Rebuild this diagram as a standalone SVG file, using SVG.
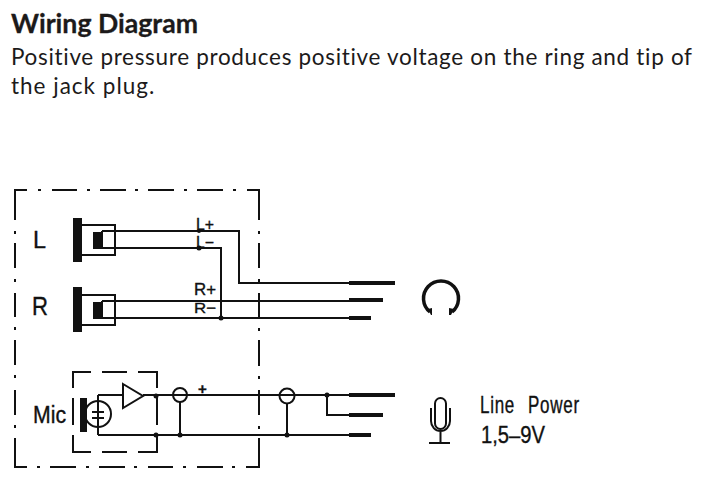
<svg xmlns="http://www.w3.org/2000/svg" width="704" height="480" viewBox="0 0 704 480">
<style>
.h{font-family:Lato,"Open Sans",sans-serif;font-weight:700;font-size:26.5px;fill:#1c1a1a;stroke:#1c1a1a;stroke-width:.3}
.b{font-family:Lato,"Open Sans",sans-serif;font-size:22.5px;fill:#1c1a1a;letter-spacing:1px}
.c{font-family:"Liberation Sans",sans-serif;fill:#111;stroke:#111;stroke-width:.35}
.w{fill:none;stroke:#111;stroke-width:2}
.t{fill:none;stroke:#111;stroke-width:4}
.f{fill:none;stroke:#111;stroke-width:2}
.k{fill:#111}
</style>
<rect width="704" height="480" fill="#fff"/>
<text class="h" x="11" y="33" textLength="187" lengthAdjust="spacingAndGlyphs">Wiring Diagram</text>
<text class="b" x="11" y="65" textLength="682" lengthAdjust="spacing">Positive pressure produces positive voltage on the ring and tip of</text>
<text class="b" x="11" y="94">the jack plug.</text>
<g id="frame">
<path class="f" d="M15 220V190H27M38 190h3M52 190H77M87 190h3M100 190H126M135 190h3M148 190H174M184 190h3M197 190H223M233 190h3M247 190H259V220M259 231v3M259 243V268M259 279v3M259 293V317M259 328v3M259 340V366M259 376v3M259 390V415M259 426v3M259 438V467H246M235 467h-3M223 467H197M186 467h-3M173 467H148M137 467h-3M125 467H99M89 467h-3M76 467H50M40 467h-3M27 467H15V438M15 428v-3M15 415V390M15 378v-3M15 365V340M15 330v-3M15 317V293M15 282v-3M15 268V243M15 234v-3"/>
</g>
<g id="connectors">
<path class="w" d="M102 231H239V283H349M102 248H221V318M102 301H349M102 318H349M98 395V435M98 395H123M143 395H349M98 435H349M327 395V415H349M180 402V435M287 404V435"/>
<path class="t" d="M349 283H395M349 300H383M349 318H371M349 395H395M349 415H383M349 435H371"/>
<circle class="k" cx="199" cy="231" r="2"/><circle class="k" cx="199" cy="248" r="2.500"/><circle class="k" cx="221" cy="318" r="2.500"/>
<circle class="k" cx="156" cy="396" r="2.500"/><circle class="k" cx="156" cy="435" r="2.500"/>
<circle class="k" cx="180" cy="435" r="2.500"/><circle class="k" cx="287" cy="435" r="2.500"/><circle class="k" cx="327" cy="395" r="2.500"/>
</g>
<g id="jack-L">
<rect class="k" x="73" y="218" width="9" height="44"/>
<rect class="k" x="93" y="232" width="9" height="17"/>
<path class="w" d="M82 225H115V255H82M102 231V248"/>
<text class="c" x="33" y="248" font-size="23" textLength="13" lengthAdjust="spacingAndGlyphs">L</text>
<text class="c" x="196" y="230" font-size="16" textLength="18" lengthAdjust="spacingAndGlyphs">L+</text>
<text class="c" x="196" y="248" font-size="16" textLength="18" lengthAdjust="spacingAndGlyphs">L−</text>
</g>
<g id="jack-R">
<rect class="k" x="73" y="287" width="9" height="45"/>
<rect class="k" x="93" y="302" width="9" height="17"/>
<path class="w" d="M82 295H115V325H82M102 301V318"/>
<text class="c" x="32" y="315" font-size="25" textLength="16" lengthAdjust="spacingAndGlyphs">R</text>
<text class="c" x="194" y="295" font-size="16" textLength="22" lengthAdjust="spacingAndGlyphs">R+</text>
<text class="c" x="194" y="313" font-size="15" textLength="22" lengthAdjust="spacingAndGlyphs">R−</text>
</g>
<g id="mic-capsule">
<path class="f" d="M73 388V372H91M102 372H127M138 372H157V388M157 398V425M157 435V452H138M127 452H102M91 452H73V435M73 398V425"/>
<rect class="k" x="80" y="398" width="7" height="34"/>
<circle class="w" cx="98" cy="414" r="13"/>
<path class="w" d="M92 412H104M92 418H104M98 395V412M98 418V435"/>
<path class="w" d="M123 384L143 396L123 408Z"/>
<text class="c" x="33" y="423" font-size="23" textLength="33" lengthAdjust="spacingAndGlyphs">Mic</text>
</g>
<g id="tap-1">
<circle class="w" cx="180" cy="395" r="7"/>
<text class="c" x="198" y="394" font-size="15" font-weight="700">+</text>
</g>
<g id="tap-2"><circle class="w" cx="287" cy="396" r="7.500"/></g>
<g id="headphones">
<path fill="none" stroke="#111" stroke-width="3.500" d="M430 312A17.500 17.500 0 1 1 452 312"/>
<path class="k" d="M428 309L432 308V315H431ZM454 309L449 308V315H451Z"/>
</g>
<g id="mic-icon">
<rect class="w" x="435" y="398" width="11" height="31" rx="5.500"/>
<path class="w" d="M431 408V421A9.500 10 0 0 0 450 421V408M440.500 431V443M429 443H450"/>
</g>
<g id="line-power">
<text class="c" y="413" font-size="23" letter-spacing="1" transform="scale(.74 1)"><tspan x="648.600">Line</tspan> <tspan x="713.500">Power</tspan></text>
<text class="c" x="481" y="443" font-size="23" textLength="64" lengthAdjust="spacingAndGlyphs">1,5–9V</text>
</g>
</svg>
